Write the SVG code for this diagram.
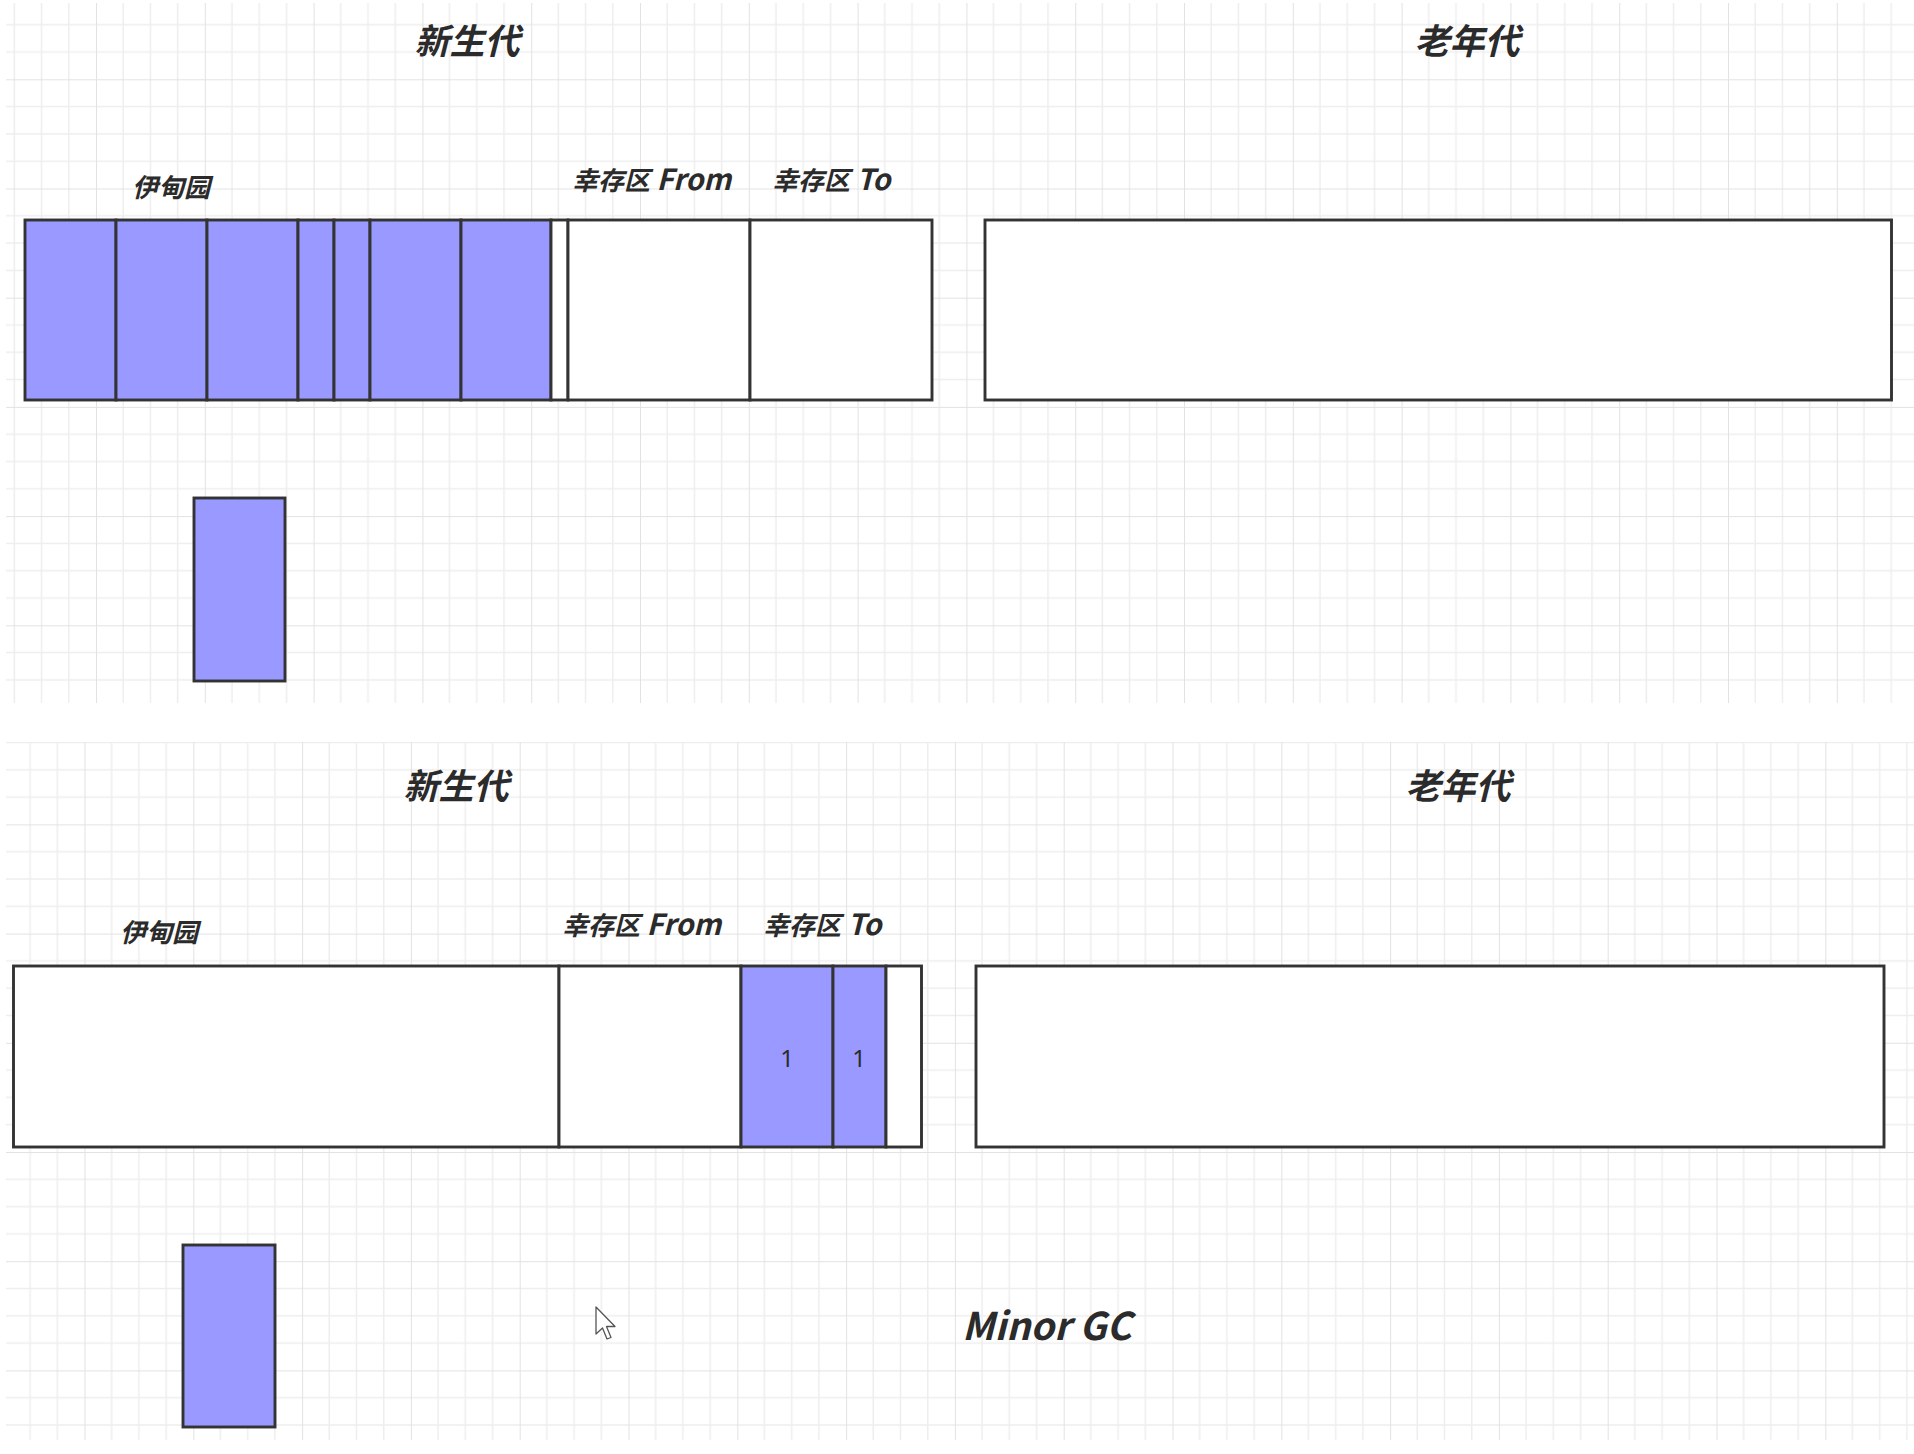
<svg xmlns="http://www.w3.org/2000/svg" width="1914" height="1454" viewBox="0 0 1914 1454">
<style>
.cell{stroke:#333;stroke-width:2.9;}
.blue{fill:#9999ff;}
.white{fill:#ffffff;}
.t{font-family:"Noto Sans CJK SC","Noto Sans",sans-serif;font-weight:bold;font-style:italic;fill:#2b2b2b;}
.title{font-size:35px;text-anchor:middle;}
.lbl{font-size:26px;}
.lat{font-size:29px;}
.num{font-family:"Noto Sans","Liberation Sans",sans-serif;font-size:24px;fill:#2b2b2b;text-anchor:middle;}
</style>
<defs>
<pattern id="gridTop" patternUnits="userSpaceOnUse" x="96" y="79.3" width="108.8" height="109.2">
<path d="M27.2 0V109.2M54.4 0V109.2M81.6 0V109.2M0 27.3H108.8M0 54.6H108.8M0 81.9H108.8" stroke="#eeeeee" stroke-width="1.5" fill="none"/>
<path d="M0 0V109.2M0 0H108.8" stroke="#e2e2e2" stroke-width="2" fill="none"/>
</pattern>
<pattern id="gridBot" patternUnits="userSpaceOnUse" x="84.5" y="1152" width="108.8" height="109.2">
<path d="M27.2 0V109.2M54.4 0V109.2M81.6 0V109.2M0 27.3H108.8M0 54.6H108.8M0 81.9H108.8" stroke="#eeeeee" stroke-width="1.5" fill="none"/>
<path d="M0 0V109.2M0 0H108.8" stroke="#e2e2e2" stroke-width="2" fill="none"/>
</pattern>
</defs>
<rect x="0" y="0" width="1914" height="1454" fill="#ffffff"/>
<rect x="6" y="3" width="1908" height="700" fill="url(#gridTop)"/>
<rect x="6" y="742" width="1908" height="698" fill="url(#gridBot)"/>

<!-- Top section -->
<g id="top-young-title"><text class="t title" x="467" y="54">新生代</text></g>
<g id="top-old-title"><text class="t title" x="1467" y="54">老年代</text></g>
<g id="top-eden-label"><text class="t lbl" x="132" y="197">伊甸园</text></g>
<g id="top-from-label"><text class="t lbl" x="572" y="190">幸存区<tspan class="lat"> From</tspan></text></g>
<g id="top-to-label"><text class="t lbl" x="772" y="190">幸存区<tspan class="lat"> To</tspan></text></g>
<g id="top-young">
<rect class="cell blue" x="25" y="220" width="91" height="180"/>
<rect class="cell blue" x="116" y="220" width="91" height="180"/>
<rect class="cell blue" x="207" y="220" width="91" height="180"/>
<rect class="cell blue" x="298" y="220" width="36" height="180"/>
<rect class="cell blue" x="334" y="220" width="36" height="180"/>
<rect class="cell blue" x="370" y="220" width="91" height="180"/>
<rect class="cell blue" x="461" y="220" width="90" height="180"/>
<rect class="cell white" x="551" y="220" width="17" height="180"/>
<rect class="cell white" x="568" y="220" width="182" height="180"/>
<rect class="cell white" x="750" y="220" width="182" height="180"/>
</g>
<g id="top-old"><rect class="cell white" x="985" y="220" width="906.5" height="180"/></g>
<g id="top-object"><rect class="cell blue" x="194" y="498" width="91" height="183"/></g>

<!-- Bottom section -->
<g id="bot-young-title"><text class="t title" x="456" y="799">新生代</text></g>
<g id="bot-old-title"><text class="t title" x="1458" y="799">老年代</text></g>
<g id="bot-eden-label"><text class="t lbl" x="120" y="942">伊甸园</text></g>
<g id="bot-from-label"><text class="t lbl" x="562" y="935">幸存区<tspan class="lat"> From</tspan></text></g>
<g id="bot-to-label"><text class="t lbl" x="763" y="935">幸存区<tspan class="lat"> To</tspan></text></g>
<g id="bot-young">
<rect class="cell white" x="13.5" y="966" width="545.5" height="181"/>
<rect class="cell white" x="559" y="966" width="182" height="181"/>
<rect class="cell blue" x="741" y="966" width="92" height="181"/>
<rect class="cell blue" x="833" y="966" width="53" height="181"/>
<rect class="cell white" x="886" y="966" width="35.5" height="181"/>
<text class="num" x="787" y="1067">1</text>
<text class="num" x="859" y="1067">1</text>
</g>
<g id="bot-old"><rect class="cell white" x="976" y="966" width="908" height="181"/></g>
<g id="bot-object"><rect class="cell blue" x="183" y="1245" width="92" height="182"/></g>
<g id="minor-gc"><text class="t" x="962" y="1340" font-size="38">Minor GC</text></g>
<g id="cursor"><path d="M596 1307 L596 1334 L602.5 1328 L607 1339 L611 1337.5 L606.5 1326.5 L615 1326.5 Z" fill="#ffffff" stroke="#555" stroke-width="1.3" stroke-linejoin="round"/></g>
</svg>
